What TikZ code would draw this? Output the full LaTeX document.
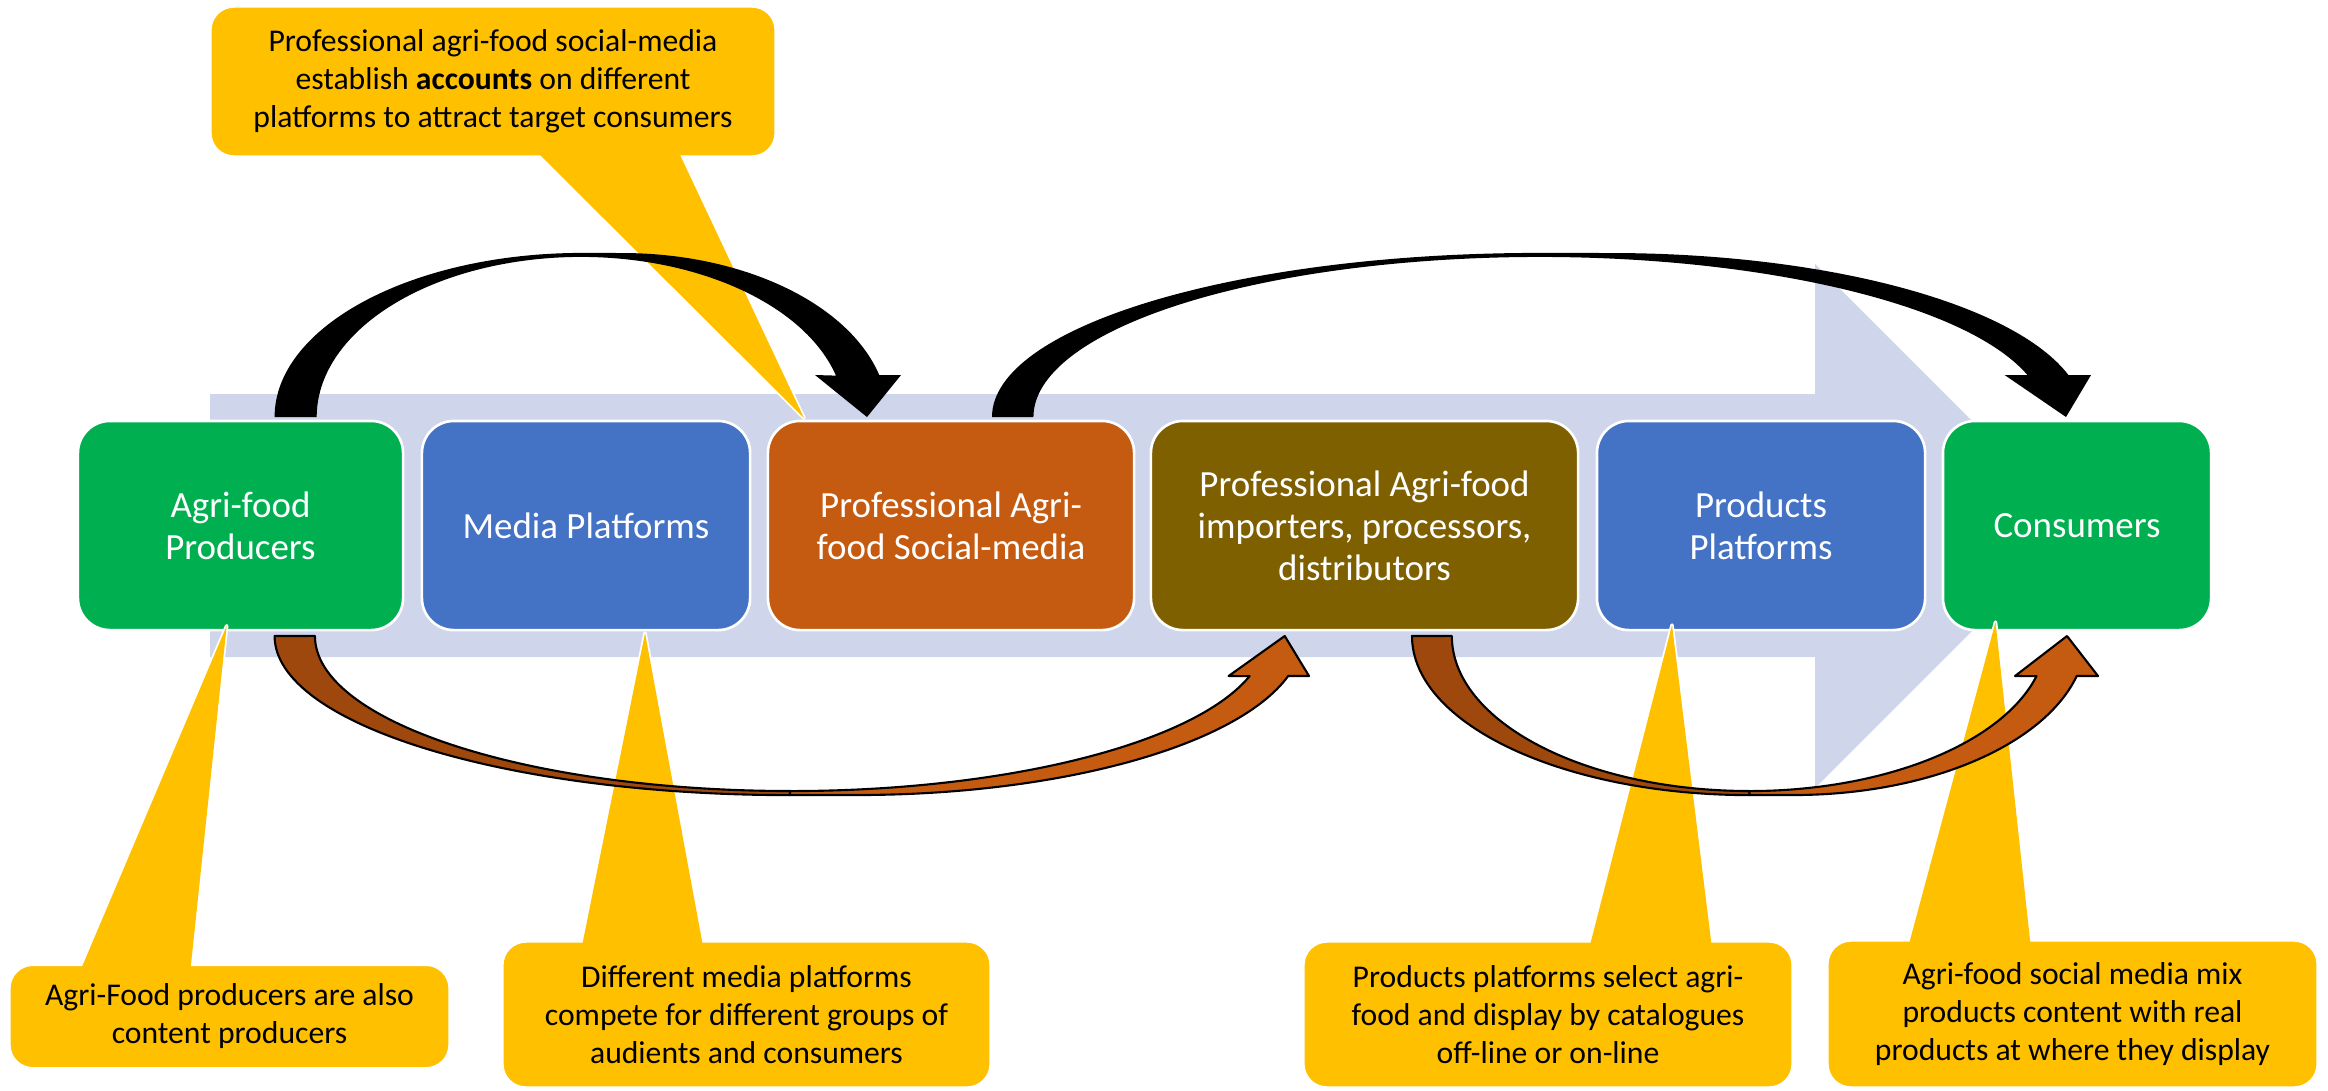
\documentclass[tikz,border=0pt]{standalone}
\usepackage{fontspec}
\setmainfont{Carlito}
\definecolor{cgreen}{HTML}{00B050}
\definecolor{cblue}{HTML}{4472C4}
\definecolor{corange}{HTML}{C55A11}
\definecolor{colive}{HTML}{7F6000}
\definecolor{cband}{HTML}{CFD5EA}
\definecolor{cyellow}{HTML}{FFC000}
\definecolor{cbrownd}{HTML}{9E480E}
\definecolor{cbrownl}{HTML}{C55A11}
\begin{document}
\begin{tikzpicture}[x=0.01cm,y=-0.01cm,
  stage/.style={draw=white, line width=0.75pt, rounded corners=0.32cm, inner sep=0pt,
    align=center, text=white, font=\fontsize{10.5}{11.95}\selectfont, minimum height=2.09cm},
  note/.style={fill=cyellow, draw=white, line width=1pt, rounded corners=0.24cm, inner sep=0pt,
    align=center, text=black, font=\fontsize{9}{10.8}\selectfont},
  wedgeline/.style={fill=cyellow, draw=white, line width=1pt, line join=round},
  wedgefill/.style={fill=cyellow},
  blackarrow/.style={fill=black},
  brownback/.style={fill=cbrownd, draw=black, line width=0.6pt, line join=round},
  brownfront/.style={fill=cbrownl, draw=black, line width=0.6pt, line join=round}]
\useasboundingbox (0,0) rectangle (2328,1090);

% background process arrow
\fill[cband] (210,394) -- (1815,394) -- (1815,264) -- (2077,526) -- (1815,788) -- (1815,657) -- (210,657) -- cycle;

% stages
\node[stage, fill=cgreen, minimum width=3.25cm] (p1) at (240.5,525.5) {Agri-food\\Producers};
\node[stage, fill=cblue, minimum width=3.28cm] (p2) at (586,525.5) {Media Platforms};
\node[stage, fill=corange, minimum width=3.66cm] (p3) at (951,525.5) {Professional Agri-\\food Social-media};
\node[stage, fill=colive, minimum width=4.27cm] (p4) at (1364.5,525.5) {Professional Agri-food\\importers, processors,\\distributors};
\node[stage, fill=cblue, minimum width=3.28cm] (p5) at (1761,525.5) {Products\\Platforms};
\node[stage, fill=cgreen, minimum width=2.68cm] (p6) at (2077,525.5) {Consumers};

% callout top
\path[wedgeline] (535,150) -- (804,418) -- (677.7,150) -- cycle;
\node[note, minimum width=5.66cm, minimum height=1.51cm] (c0) at (493,81.5)
  {Professional agri-food social-media\\establish \textbf{accounts} on different\\platforms to attract target consumers};
\fill[wedgefill] (535,150) -- (804,418) -- (677.7,150) -- cycle;

% callout 1
\path[wedgeline] (76.6,979.5) -- (226.7,625.7) -- (189.4,979.5) -- cycle;
\node[note, minimum width=4.41cm, minimum height=1.045cm] (c1) at (229.5,1016.5)
  {Agri-Food producers are also\\content producers};
\fill[wedgefill] (76.6,979.5) -- (226.7,625.7) -- (189.4,979.5) -- cycle;

% callout 2
\path[wedgeline] (580,956) -- (645,633) -- (704.8,956) -- cycle;
\node[note, minimum width=4.89cm, minimum height=1.47cm] (c2) at (746.5,1014.5)
  {Different media platforms\\compete for different groups of\\audients and consumers};
\fill[wedgefill] (580,956) -- (645,633) -- (704.8,956) -- cycle;

% callout 3
\path[wedgeline] (1587.2,956) -- (1672,625) -- (1712.9,956) -- cycle;
\node[note, minimum width=4.9cm, minimum height=1.47cm] (c3) at (1548,1014.5)
  {Products platforms select agri-\\food and display by catalogues\\off-line or on-line};
\fill[wedgefill] (1587.2,956) -- (1672,625) -- (1712.9,956) -- cycle;

% callout 4
\path[wedgeline] (1906,955) -- (1995.5,622) -- (2031.6,955) -- cycle;
\node[note, minimum width=4.91cm, minimum height=1.48cm] (c4) at (2072.5,1014)
  {Agri-food social media mix\\products content with real\\products at where they display};
\fill[wedgefill] (1906,955) -- (1995.5,622) -- (2031.6,955) -- cycle;

% black curved arrows (top)
\fill[blackarrow] (274.6,417) arc[start angle=180,end angle=90,x radius=3.074cm,y radius=1.64cm]
  -- (622,253) arc[start angle=90,end angle=14.84,x radius=2.66cm,y radius=1.64cm]
  -- (901,375) -- (867,417) -- (815,375) -- (836,375.6)
  arc[start angle=15,end angle=180,x radius=2.64cm,y radius=1.6cm] -- cycle;
\fill[blackarrow] (992,417) arc[start angle=180,end angle=90,x radius=5.47cm,y radius=1.64cm]
  -- (1610,253) arc[start angle=90,end angle=14.84,x radius=4.74cm,y radius=1.64cm]
  -- (2091,375) -- (2066,417) -- (2004.6,375) -- (2027.6,375.2)
  arc[start angle=15.16,end angle=180,x radius=5.056cm,y radius=1.6cm] -- cycle;

% brown curved arrows (bottom)
\filldraw[brownback] (274.6,636) arc[start angle=180,end angle=270,x radius=5.15cm,y radius=1.59cm]
  -- (790.5,791) arc[start angle=270,end angle=180,x radius=4.753cm,y radius=1.55cm] -- cycle;
\filldraw[brownfront] (789.6,795) -- (856.6,795)
  arc[start angle=270,end angle=345.43,x radius=4.457cm,y radius=1.59cm]
  -- (1309,676) -- (1284.7,636) -- (1228.6,676) -- (1249.6,676.1)
  arc[start angle=345,end angle=270,x radius=4.753cm,y radius=1.55cm] -- cycle;
\filldraw[brownback] (1412,636) arc[start angle=180,end angle=270,x radius=3.377cm,y radius=1.59cm]
  -- (1749.3,791) arc[start angle=270,end angle=180,x radius=2.973cm,y radius=1.55cm] -- cycle;
\filldraw[brownfront] (1749.7,795) -- (1793.7,795)
  arc[start angle=270,end angle=345.43,x radius=2.923cm,y radius=1.59cm]
  -- (2098,676) -- (2067,636) -- (2015,676) -- (2036.5,676.1)
  arc[start angle=345,end angle=270,x radius=2.973cm,y radius=1.55cm] -- cycle;
\end{tikzpicture}
\end{document}
